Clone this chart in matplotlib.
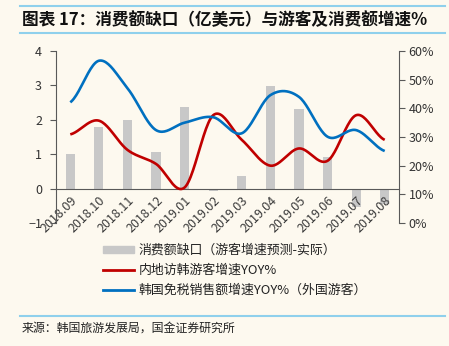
import numpy as np
import matplotlib
matplotlib.use('Agg')
import matplotlib.pyplot as plt
from matplotlib.patches import Patch
from matplotlib.lines import Line2D

plt.rcParams['font.family'] = ['Noto Sans CJK SC', 'DejaVu Sans']

# 月份
months = ['2018.09', '2018.10', '2018.11', '2018.12', '2019.01', '2019.02',
          '2019.03', '2019.04', '2019.05', '2019.06', '2019.07', '2019.08']
# 消费额缺口（亿美元）
gap = [1.02, 1.79, 2.0, 1.07, 2.36, -0.08, 0.38, 2.98, 2.3, 0.92, -0.54, -0.45]
# 内地访韩游客增速
visitors_yoy = [0.309, 0.357, 0.255, 0.206, 0.124, 0.376, 0.29, 0.20, 0.26, 0.217, 0.376, 0.29]
# 韩国免税销售额增速（外国游客）
dutyfree_yoy = [0.421, 0.566, 0.47, 0.324, 0.35, 0.369, 0.313, 0.446, 0.44, 0.301, 0.324, 0.251]

BG = '#fdf9ef'
AXC = '#595959'


def smooth(y, n=24):
    # Catmull-Rom 平滑曲线
    y = np.asarray(y, dtype=float)
    xs, ys = [], []
    for i in range(len(y) - 1):
        p0 = y[i - 1] if i > 0 else y[i]
        p1, p2 = y[i], y[i + 1]
        p3 = y[i + 2] if i + 2 < len(y) else y[i + 1]
        t = np.linspace(0, 1, n, endpoint=False)
        seg = 0.5 * ((2 * p1) + (-p0 + p2) * t + (2 * p0 - 5 * p1 + 4 * p2 - p3) * t ** 2
                     + (-p0 + 3 * p1 - 3 * p2 + p3) * t ** 3)
        xs.append(i + t)
        ys.append(seg)
    xs.append([len(y) - 1])
    ys.append([y[-1]])
    return np.concatenate(xs), np.concatenate(ys)


fig = plt.figure(figsize=(4.49, 3.46), dpi=100, facecolor=BG)
W, H = 449, 346
ax = fig.add_axes([56 / W, 1 - 223 / H, (399 - 56) / W, (223 - 51) / H])
ax.set_facecolor(BG)
x = np.arange(len(months))
ax.bar(x, gap, width=0.32, color='#c8c8c8', zorder=1)
ax.set_xlim(-0.5, len(months) - 0.5)
ax.set_ylim(-1, 4)
ax.set_yticks([-1, 0, 1, 2, 3, 4])
ax.spines['top'].set_visible(False)
ax.spines['right'].set_visible(False)
ax.spines['left'].set_color(AXC)
ax.spines['bottom'].set_position(('data', 0))
ax.spines['bottom'].set_color(AXC)
ax.set_xticks(x)
ax.set_xticklabels(months, rotation=45, ha='right', rotation_mode='anchor')
ax.tick_params(axis='x', length=0, pad=4, labelsize=9, labelcolor='#3a3a3a')
ax.tick_params(axis='y', length=4, width=0.8, color=AXC, labelsize=9, labelcolor='#333333', pad=6)

ax2 = ax.twinx()
ax2.set_ylim(0, 0.6)
ax2.set_yticks(np.arange(0, 0.61, 0.1))
ax2.set_yticklabels([f'{int(round(v * 100))}%' for v in np.arange(0, 0.61, 0.1)])
for s in ['top', 'left', 'bottom']:
    ax2.spines[s].set_visible(False)
ax2.spines['right'].set_color(AXC)
ax2.tick_params(axis='y', length=4, width=0.8, color=AXC, labelsize=9, labelcolor='#333333', pad=3)

sx, sy = smooth(visitors_yoy)
ax2.plot(sx, sy, color='#c00000', lw=1.9, solid_capstyle='butt')
sx, sy = smooth(dutyfree_yoy)
ax2.plot(sx, sy, color='#0070c0', lw=1.9, solid_capstyle='butt')

handles = [Patch(color='#c8c8c8'), Line2D([], [], color='#c00000', lw=2),
           Line2D([], [], color='#0070c0', lw=2)]
labels = ['消费额缺口（游客增速预测-实际）', '内地访韩游客增速YOY%', '韩国免税销售额增速YOY%（外国游客）']
fig.legend(handles, labels, loc='upper left', bbox_to_anchor=(103 / W, 1 - 244 / H),
           frameon=False, fontsize=9.3, handlelength=2.4, handleheight=0.55,
           handletextpad=0.35, labelspacing=0.55, borderpad=0, borderaxespad=0,
           labelcolor='#222222')

# 标题与分隔线
line_c = '#8fd0ec'
fig.add_artist(Line2D([20 / W, 445 / W], [1 - 6 / H, 1 - 6 / H], color=line_c, lw=1.5))
fig.add_artist(Line2D([20 / W, 445 / W], [1 - 33 / H, 1 - 33 / H], color=line_c, lw=1.5))
fig.add_artist(Line2D([20 / W, 445 / W], [1 - 316 / H, 1 - 316 / H], color=line_c, lw=1.5))
fig.text(22 / W, 1 - 20 / H, '图表 17：消费额缺口（亿美元）与游客及消费额增速%',
         fontsize=12, fontweight='bold', style='italic', va='center', ha='left', color='#111111')
fig.text(22 / W, 1 - 328 / H, '来源：韩国旅游发展局，国金证券研究所',
         fontsize=8.6, va='center', ha='left', color='#222222')

fig.savefig('out.png', dpi=100, facecolor=BG)
